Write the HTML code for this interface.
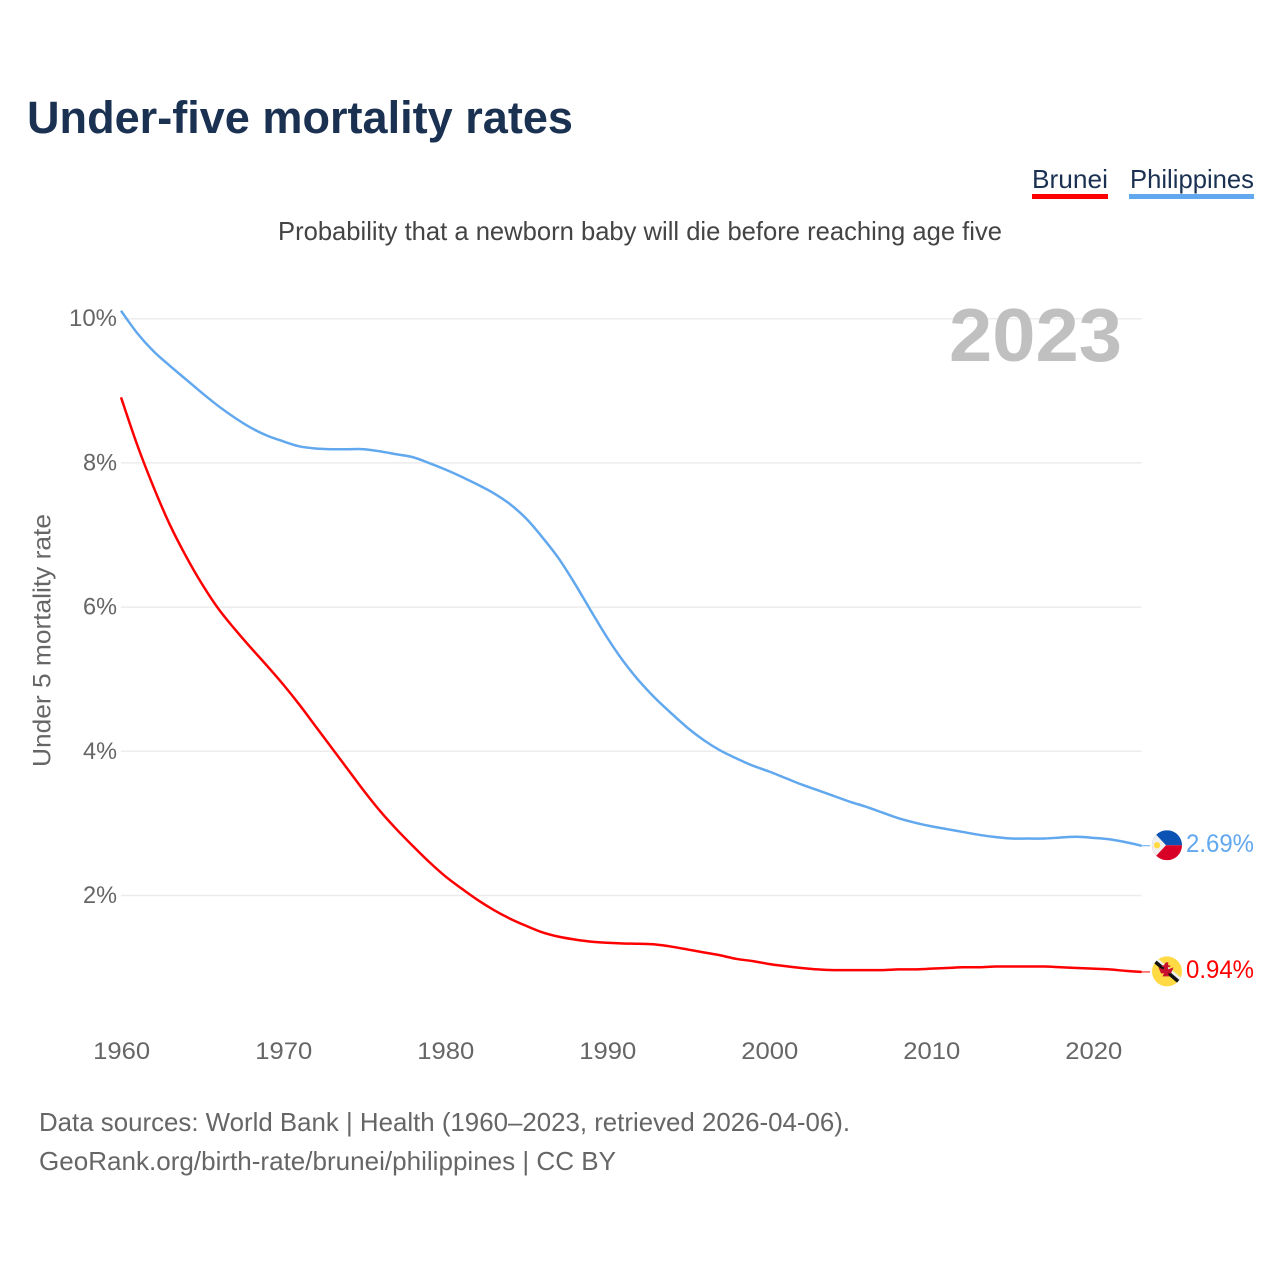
<!DOCTYPE html>
<html lang="en">
<head>
<meta charset="utf-8">
<title>Under-five mortality rates</title>
<style>
html,body{margin:0;padding:0;background:#fff;}
svg{display:block;font-family:"Liberation Sans",sans-serif;}
</style>
</head>
<body>
<svg id="chart" xmlns="http://www.w3.org/2000/svg" width="1280" height="1280" viewBox="0 0 1280 1280">
  <rect x="0" y="0" width="1280" height="1280" fill="#fff"/>
  <text x="27" y="133" font-size="45" font-weight="700" fill="#1a3152" textLength="546" lengthAdjust="spacingAndGlyphs">Under-five mortality rates</text>
  <g>
    <text x="1032" y="188" font-size="26" fill="#1a3152" textLength="76" lengthAdjust="spacingAndGlyphs">Brunei</text>
    <rect x="1032" y="194" width="76" height="5" fill="#ff0000"/>
  </g>
  <g>
    <text x="1130" y="188" font-size="26" fill="#1a3152" textLength="124" lengthAdjust="spacingAndGlyphs">Philippines</text>
    <rect x="1129" y="194" width="125" height="5" fill="#61a8ee"/>
  </g>
  <text x="278" y="240" font-size="26" fill="#444" textLength="724" lengthAdjust="spacingAndGlyphs">Probability that a newborn baby will die before reaching age five</text>
  <text transform="translate(50.5,767) rotate(-90)" x="0" y="0" font-size="25" fill="#666" textLength="253" lengthAdjust="spacingAndGlyphs">Under 5 mortality rate</text>
  <g id="grid"></g>
  <g id="yticks"></g>
  <g id="xticks"></g>
  <text x="949" y="361" font-size="75" font-weight="700" fill="#c0c0c0" textLength="173" lengthAdjust="spacingAndGlyphs">2023</text>
  <g id="series"></g>
  <defs>
    <clipPath id="flag-clip"><circle cx="0" cy="0" r="15"/></clipPath>
  </defs>
  <g id="flag-philippines">
    <g clip-path="url(#flag-clip)">
      <rect x="-15" y="-15" width="30" height="15" fill="#0b52b5"/>
      <rect x="-15" y="0" width="30" height="15" fill="#d80027"/>
      <polygon points="-15,-15 -15,15 -1,0" fill="#f0f0f0"/>
      <circle cx="-10" cy="0" r="3.2" fill="#ffda44"/>
    </g>
  </g>
  <g id="flag-brunei">
    <g clip-path="url(#flag-clip)">
      <rect x="-15" y="-15" width="30" height="30" fill="#ffda44"/>
      <polygon points="-15,-11 -12,-15 15,7 15,14" fill="#f0f0f0"/>
      <polygon points="-15,-10 -13,-13 14,10 12,13" fill="#111"/>
      <path d="M-1.2,-9 h2.4 v3 h2 v1.4 h-2 v2.6 l5.3,-2 l-2.5,6 h-3 l1.5,3 h-7 l1.5,-3 h-3 l-2.5,-6 l5.3,2 v-2.6 h-2 v-1.4 h2z" fill="#c8102e"/>
    </g>
  </g>
  <text id="value-philippines" x="1186" font-size="25" fill="#61a8ee" textLength="68" lengthAdjust="spacingAndGlyphs"></text>
  <text id="value-brunei" x="1186" font-size="25" fill="#ff0000" textLength="68" lengthAdjust="spacingAndGlyphs"></text>
  <text x="39" y="1131" font-size="26" fill="#666" textLength="811" lengthAdjust="spacingAndGlyphs">Data sources: World Bank | Health (1960–2023, retrieved 2026-04-06).</text>
  <text x="39" y="1170" font-size="26" fill="#666" textLength="577" lengthAdjust="spacingAndGlyphs">GeoRank.org/birth-rate/brunei/philippines | CC BY</text>
</svg>
<script>
const startYear = 1960;
const endYear = 2023;
const yTickValues = [2, 4, 6, 8, 10];
const xTickYears = [1960, 1970, 1980, 1990, 2000, 2010, 2020];
const bruneiValues = [
  8.91, 8.25, 7.67, 7.15, 6.71, 6.32, 5.98, 5.70, 5.44, 5.19,
  4.93, 4.65, 4.35, 4.05, 3.75, 3.45, 3.17, 2.92, 2.69, 2.47,
  2.27, 2.10, 1.94, 1.80, 1.68, 1.58, 1.49, 1.43, 1.39, 1.36,
  1.345, 1.335, 1.33, 1.32, 1.29, 1.25, 1.21, 1.17, 1.12, 1.09,
  1.05, 1.02, 0.995, 0.975, 0.965, 0.965, 0.965, 0.965, 0.975, 0.975,
  0.985, 0.995, 1.005, 1.005, 1.015, 1.015, 1.015, 1.015, 1.005, 0.995,
  0.985, 0.975, 0.955, 0.94
];
const philippinesValues = [
  10.11, 9.80, 9.55, 9.35, 9.16, 8.97, 8.79, 8.63, 8.49, 8.38,
  8.30, 8.23, 8.20, 8.19, 8.19, 8.19, 8.16, 8.12, 8.08, 8.00,
  7.91, 7.81, 7.70, 7.58, 7.43, 7.23, 6.97, 6.68, 6.33, 5.95,
  5.58, 5.25, 4.97, 4.73, 4.52, 4.32, 4.15, 4.01, 3.90, 3.80,
  3.72, 3.63, 3.54, 3.46, 3.38, 3.30, 3.23, 3.15, 3.07, 3.01,
  2.96, 2.92, 2.88, 2.84, 2.81, 2.79, 2.79, 2.79, 2.805, 2.815,
  2.80, 2.78, 2.74, 2.69
];

const SVG_NS = 'http://www.w3.org/2000/svg';
const plotLeft = 121;
const plotRight = 1141.7;
function xScale(year) {
  return plotLeft + (year - startYear) * (plotRight - plotLeft) / (endYear - startYear);
}
function yScale(value) {
  return 895.5 - (value - 2) * 72.1;
}
function make(tag, parent) {
  const el = document.createElementNS(SVG_NS, tag);
  parent.appendChild(el);
  return el;
}

const gridGroup = document.getElementById('grid');
const yTickGroup = document.getElementById('yticks');
yTickValues.forEach(function (v) {
  const line = make('line', gridGroup);
  
  
  line.setAttribute('x1', plotLeft);
  line.setAttribute('x2', plotRight);
  line.setAttribute('y1', yScale(v));
  line.setAttribute('y2', yScale(v));
  line.setAttribute('stroke', '#ececec');
  line.setAttribute('stroke-width', '1.5');
  const label = v + '%';
  const t = make('text', yTickGroup);
  
  
  t.setAttribute('x', 117);
  t.setAttribute('y', yScale(v) + 7.5);
  t.setAttribute('text-anchor', 'end');
  t.setAttribute('font-size', '24');
  t.setAttribute('fill', '#666');
  t.setAttribute('textLength', label.length * 14 + 6);
  t.setAttribute('lengthAdjust', 'spacingAndGlyphs');
  t.textContent = label;
});

const xTickGroup = document.getElementById('xticks');
xTickYears.forEach(function (yr) {
  const t = make('text', xTickGroup);
  
  
  t.setAttribute('x', xScale(yr) + 0.7);
  t.setAttribute('y', 1059);
  t.setAttribute('text-anchor', 'middle');
  t.setAttribute('font-size', '24');
  t.setAttribute('fill', '#666');
  t.setAttribute('textLength', '57');
  t.setAttribute('lengthAdjust', 'spacingAndGlyphs');
  t.textContent = String(yr);
});

function linePath(values) {
  const pts = values.map(function (v, i) {
    return [xScale(startYear + i), yScale(v)];
  });
  let d = 'M' + pts[0][0].toFixed(2) + ' ' + pts[0][1].toFixed(2);
  for (let i = 0; i < pts.length - 1; i++) {
    const p0 = pts[Math.max(i - 1, 0)];
    const p1 = pts[i];
    const p2 = pts[i + 1];
    const p3 = pts[Math.min(i + 2, pts.length - 1)];
    const c1x = p1[0] + (p2[0] - p0[0]) / 6;
    const c1y = p1[1] + (p2[1] - p0[1]) / 6;
    const c2x = p2[0] - (p3[0] - p1[0]) / 6;
    const c2y = p2[1] - (p3[1] - p1[1]) / 6;
    d += ' C' + c1x.toFixed(2) + ' ' + c1y.toFixed(2) + ' ' + c2x.toFixed(2) + ' ' + c2y.toFixed(2) + ' ' + p2[0].toFixed(2) + ' ' + p2[1].toFixed(2);
  }
  return d;
}

const seriesGroup = document.getElementById('series');

const philippinesLine = make('path', seriesGroup);


philippinesLine.setAttribute('d', linePath(philippinesValues));
philippinesLine.setAttribute('fill', 'none');
philippinesLine.setAttribute('stroke', '#61a8ee');
philippinesLine.setAttribute('stroke-width', '2.5');
philippinesLine.setAttribute('stroke-linejoin', 'round');

const bruneiLine = make('path', seriesGroup);


bruneiLine.setAttribute('d', linePath(bruneiValues));
bruneiLine.setAttribute('fill', 'none');
bruneiLine.setAttribute('stroke', '#ff0000');
bruneiLine.setAttribute('stroke-width', '2.5');
bruneiLine.setAttribute('stroke-linejoin', 'round');

const philippinesLast = philippinesValues[philippinesValues.length - 1];
const bruneiLast = bruneiValues[bruneiValues.length - 1];

const philippinesLeader = make('line', seriesGroup);


philippinesLeader.setAttribute('x1', plotRight);
philippinesLeader.setAttribute('x2', 1150);
philippinesLeader.setAttribute('y1', yScale(philippinesLast));
philippinesLeader.setAttribute('y2', yScale(philippinesLast));
philippinesLeader.setAttribute('stroke', '#61a8ee');
philippinesLeader.setAttribute('stroke-width', '1');

const bruneiLeader = make('line', seriesGroup);


bruneiLeader.setAttribute('x1', plotRight);
bruneiLeader.setAttribute('x2', 1150);
bruneiLeader.setAttribute('y1', yScale(bruneiLast));
bruneiLeader.setAttribute('y2', yScale(bruneiLast));
bruneiLeader.setAttribute('stroke', '#ff0000');
bruneiLeader.setAttribute('stroke-width', '1');

document.getElementById('flag-philippines').setAttribute('transform', 'translate(1167,' + (yScale(philippinesLast) - 0.5) + ')');
document.getElementById('flag-brunei').setAttribute('transform', 'translate(1167,' + (yScale(bruneiLast) - 0.5) + ')');

const philippinesValueLabel = document.getElementById('value-philippines');
philippinesValueLabel.setAttribute('y', yScale(philippinesLast) + 6);
philippinesValueLabel.textContent = philippinesLast.toFixed(2) + '%';
const bruneiValueLabel = document.getElementById('value-brunei');
bruneiValueLabel.setAttribute('y', yScale(bruneiLast) + 6);
bruneiValueLabel.textContent = bruneiLast.toFixed(2) + '%';
</script>
</body>
</html>
